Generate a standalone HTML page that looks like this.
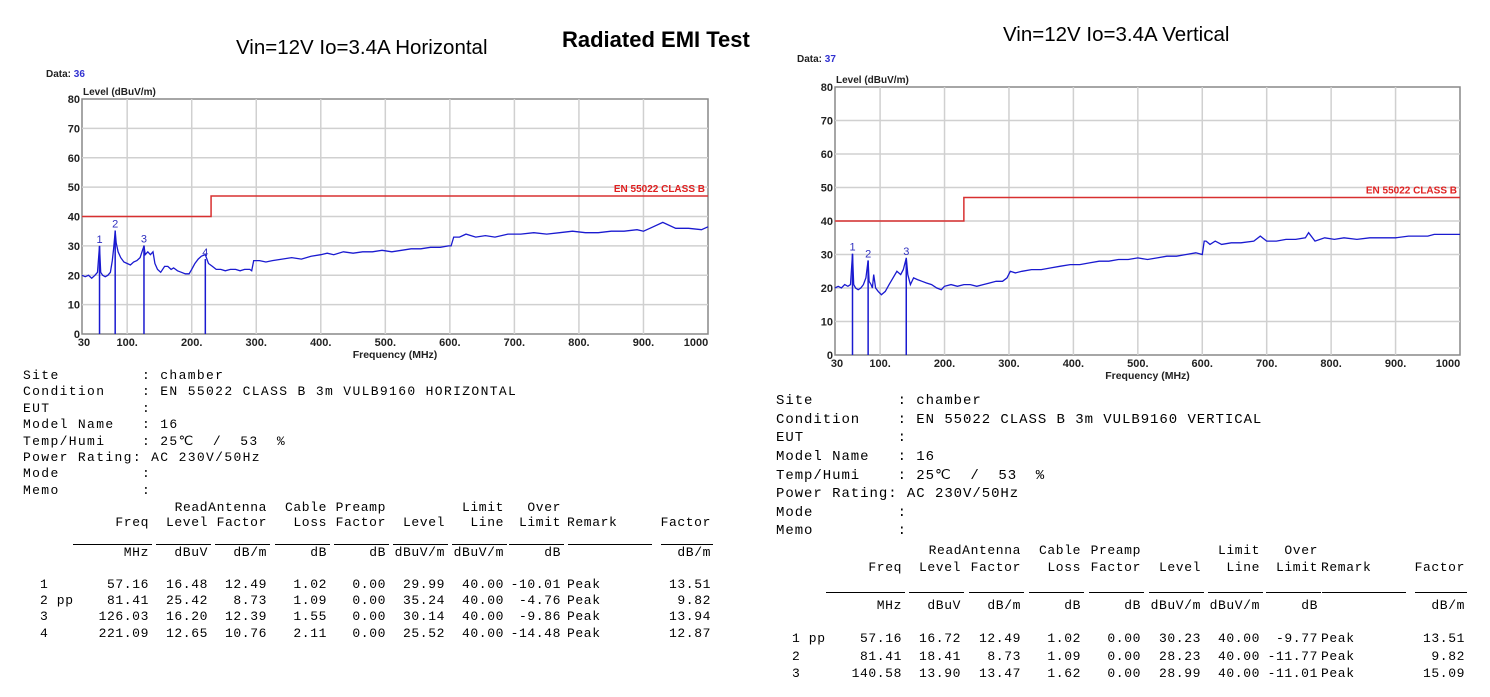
<!DOCTYPE html>
<html><head><meta charset="utf-8">
<style>
body{margin:0;background:#fff;width:1490px;height:697px;overflow:hidden;position:relative;font-family:"Liberation Sans",sans-serif}
.t{position:absolute;white-space:pre;color:#000}
.mono{font-family:"Liberation Mono",monospace;letter-spacing:1.35px;font-size:13px}
.mono2{font-family:"Liberation Mono",monospace;letter-spacing:0.95px;font-size:14px}
.c{position:absolute;font-family:"Liberation Mono",monospace;font-size:13px;letter-spacing:0.6px;white-space:pre;text-align:right;transform:translateX(-100%)}
.l{position:absolute;font-family:"Liberation Mono",monospace;font-size:13px;letter-spacing:0.6px;white-space:pre}
.ul{position:absolute;height:1px;background:#000}
</style></head><body>
<svg id="svg" width="1490" height="697" style="position:absolute;left:0;top:0"></svg>
<div class="t" style="left:236px;top:36px;font-size:20.5px">Vin=12V Io=3.4A Horizontal</div>
<div class="t" style="left:562px;top:27px;font-size:22px;font-weight:bold">Radiated EMI Test</div>
<div class="t" style="left:1003px;top:23px;font-size:20.5px">Vin=12V Io=3.4A Vertical</div>
<div id="txt"></div>
<script>
const hFreq=[30,35,40,45,50,54,57.16,59,62,66,70,74,77,79,81.41,83,86,90,95,100,105,110,115,120,123,126.03,128,132,136,140,143,147,152,158,163,168,172,178,184,190,196,200,205,210,215,221.09,226,232,238,245,252,260,268,275,282,290,293,296,305,315,325,340,355,370,385,400,410,420,435,450,465,480,495,510,525,540,555,570,585,598,602,606,615,625,640,655,670,690,710,730,750,770,790,810,830,850,870,890,900,910,930,950,970,990,1000];
const hLevel=[20,19.5,20,19,20,21,30,21,20,19.5,20,21,25,29,35,31,28,26,24.5,24,23.5,24.5,25,26,28,30,27,28,27,28,24,22,21,23,23,22,22.5,21.5,21,20.5,20.5,22,24,25.5,26.5,27,24,23,22,22,21.5,22,22,21.5,22,22,21.5,25,25,24.5,25,25.5,26,25.5,26.5,27,27.5,27,28,27.5,28,28,28.5,28,28.5,29,29,29.5,29.5,30,30,33,33,34,33,33.5,33,34,34,34.5,34,34.5,35,34.5,34.5,35,35,35.5,35,36,38,36,36,35.5,36.5,36,36];
const hMarkF=[57.16,81.41,126.03,221.09];
const hMarkL=[29.99,35.24,30.14,25.52];
const vFreq=[30,35,40,45,50,54,57.16,59,62,66,70,74,78,81.41,83,86,88,90,93,97,102,108,114,120,126,132,136,140.58,143,147,152,158,165,172,180,188,195,200,210,220,230,240,250,260,270,280,290,297,302,310,320,335,350,365,380,395,410,425,440,455,470,485,500,515,530,545,560,575,590,600,603,606,612,620,630,645,660,680,690,700,715,730,745,760,765,775,790,805,820,840,860,880,900,920,940,950,960,980,1000];
const vLevel=[20,20.5,20,21,20.5,21,30.2,21,20,19.5,20,21,23,28.2,22,21,20,24,20,19,18,19,21,23,25,24,25.5,29,24,21,23,22.5,22,21.5,21,20,19.5,20.5,21,20.5,21,21,20.5,21,21.5,22,22,23,25,24.5,25,25.5,25.5,26,26.5,27,27,27.5,28,28,28.5,28.5,29,28.5,29,29.5,29.5,30,30.5,30,34,34,33,34,33,33.5,33.5,34,35.5,34,34,34.5,34.5,35,36.5,34,35,34.5,35,34.5,35,35,35,35.5,35.5,35.5,36,36,36,35.5,35.5];
const vMarkF=[57.16,81.41,140.58];
const vMarkL=[30.23,28.23,28.99];
const xTicks=[30,100,200,300,400,500,600,700,800,900,1000];
const xTickLabels=["30","100.","200.","300.","400.","500.","600.","700.","800.","900.","1000"];
const yTicks=[0,10,20,30,40,50,60,70,80];
const limF=[30,230,230,1000];
const limL=[40,40,47,47];

const NS="http://www.w3.org/2000/svg";
const svg=document.getElementById('svg');
function mk(tag,attrs,parent){const e=document.createElementNS(NS,tag);for(const k in attrs)e.setAttribute(k,attrs[k]);(parent||svg).appendChild(e);return e;}
function chart(o,freqs,levels,mF,mL,dataNo,pre){
  const g=mk('g',{});
  
  
  const X=f=>o.x0+(f-30)/(970)*(o.x1-o.x0);
  const Y=v=>o.yb-v/80*(o.yb-o.yt);
  mk('rect',{x:o.x0,y:o.yt,width:o.x1-o.x0,height:o.yb-o.yt,fill:'#fff',stroke:'#888','stroke-width':1.5},g);
  xTicks.forEach((t,i)=>{
    if(i>0&&i<xTicks.length-1) mk('line',{x1:X(t),x2:X(t),y1:o.yt,y2:o.yb,stroke:'#d0d0d0','stroke-width':1.5},g);
    const tx=mk('text',{x:X(t)+(i==0?2:i==xTicks.length-1?-12:0),y:o.yb+12,'font-size':11,'font-weight':'bold','text-anchor':'middle',fill:'#222','font-family':'Liberation Sans'},g);
    tx.textContent=xTickLabels[i];
    
    
  });
  yTicks.forEach(t=>{
    if(t>0&&t<80) mk('line',{x1:o.x0,x2:o.x1,y1:Y(t),y2:Y(t),stroke:'#d0d0d0','stroke-width':1.5},g);
    const tx=mk('text',{x:o.x0-2,y:Y(t)+4,'font-size':11,'font-weight':'bold','text-anchor':'end',fill:'#222','font-family':'Liberation Sans'},g);
    tx.textContent=String(t);
    
    
  });
  let t=mk('text',{x:o.x0+1,y:o.yt-4,'font-size':10,'font-weight':'bold',fill:'#222','font-family':'Liberation Sans'},g);
  t.textContent='Level (dBuV/m)';
  
  
  t=mk('text',{x:(o.x0+o.x1)/2,y:o.yb+24,'font-size':10.5,'font-weight':'bold','text-anchor':'middle',fill:'#222','font-family':'Liberation Sans'},g);
  t.textContent='Frequency (MHz)';
  
  
  t=mk('text',{x:o.dx,y:o.dy,'font-size':10,'font-weight':'bold',fill:'#222','font-family':'Liberation Sans'},g);
  t.innerHTML='Data: <tspan fill="#3030d0">'+dataNo+'</tspan>';
  
  
  const lp=mk('polyline',{points:limF.map((f,i)=>X(f)+','+Y(limL[i])).join(' '),fill:'none',stroke:'#d83030','stroke-width':1.5},g);
  
  
  t=mk('text',{x:o.x1-3,y:Y(47)-4,'font-size':10,'font-weight':'bold','text-anchor':'end',fill:'#e02020','font-family':'Liberation Sans'},g);
  t.textContent='EN 55022 CLASS B';
  
  
  const tr=mk('polyline',{points:freqs.map((f,i)=>X(f).toFixed(1)+','+Y(levels[i]).toFixed(1)).join(' '),fill:'none',stroke:'#1a1ad0','stroke-width':1.3},g);
  
  
  mF.forEach((f,i)=>{
    const ln=mk('line',{x1:X(f),x2:X(f),y1:o.yb,y2:Y(mL[i]),stroke:'#1a1ad0','stroke-width':1.5},g);
    
    
    const lb=mk('text',{x:X(f),y:Y(mL[i])-3,'font-size':11,'text-anchor':'middle',fill:'#3030c0','font-family':'Liberation Sans'},g);
    lb.textContent=String(i+1);
    
    
  });
}
chart({x0:82,x1:708,yt:99,yb:334,dx:46,dy:77},hFreq,hLevel,hMarkF,hMarkL,36,'horizontal');
chart({x0:835,x1:1460,yt:87,yb:355,dx:797,dy:62},vFreq,vLevel,vMarkF,vMarkL,37,'vertical');

const txt=document.getElementById('txt');
function info(lines,x,y0,dy,cls,pre){
  lines.forEach((s,i)=>{const d=document.createElement('div');d.className='t '+cls;d.style.left=x+'px';d.style.top=(y0+i*dy)+'px';d.textContent=s;
    
    
    txt.appendChild(d);});
}
const hInfo=["Site         : chamber","Condition    : EN 55022 CLASS B 3m VULB9160 HORIZONTAL","EUT          :","Model Name   : 16","Temp/Humi    : 25\u2103  /  53  %","Power Rating: AC 230V/50Hz","Mode         :","Memo         :"];
const vInfo=["Site         : chamber","Condition    : EN 55022 CLASS B 3m VULB9160 VERTICAL","EUT          :","Model Name   : 16","Temp/Humi    : 25\u2103  /  53  %","Power Rating: AC 230V/50Hz","Mode         :","Memo         :"];
info(hInfo,23,368,16.4,'mono','horizontal');
info(vInfo,776,393,18.6,'mono2','vertical');

const head1=["","","ReadAntenna","Cable","Preamp","","Limit","Over"];
const head2=["Freq","Level","Factor","Loss","Factor","Level","Line","Limit"];
const units=["MHz","dBuV","dB/m","dB","dB","dBuV/m","dBuV/m","dB"];
const hRows=[["1","57.16","16.48","12.49","1.02","0.00","29.99","40.00","-10.01","13.51"],["2 pp","81.41","25.42","8.73","1.09","0.00","35.24","40.00","-4.76","9.82"],["3","126.03","16.20","12.39","1.55","0.00","30.14","40.00","-9.86","13.94"],["4","221.09","12.65","10.76","2.11","0.00","25.52","40.00","-14.48","12.87"]];
const vRows=[["1 pp","57.16","16.72","12.49","1.02","0.00","30.23","40.00","-9.77","13.51"],["2","81.41","18.41","8.73","1.09","0.00","28.23","40.00","-11.77","9.82"],["3","140.58","13.90","13.47","1.62","0.00","28.99","40.00","-11.01","15.09"]];
function cell(s,x,y,right,pre){const d=document.createElement('div');d.className=right?'c':'l';d.style.left=x+'px';d.style.top=y+'px';d.textContent=s;
  
  
  txt.appendChild(d);}
function table(o,rows,pre){
  const ends=o.ends;
  head1.forEach((s,i)=>{ if(s) cell(s,ends[i],o.h1,true,pre);});
  head2.forEach((s,i)=>cell(s,ends[i],o.h2,true,pre));
  cell('Remark',o.rem,o.h2,false,pre);
  cell('Factor',o.fac,o.h2,true,pre);
  units.forEach((s,i)=>cell(s,ends[i],o.u,true,pre));
  cell('dB/m',o.fac,o.u,true,pre);
  ends.forEach((e,i)=>{const d=document.createElement('div');d.className='ul';const w=i==0?e-o.first+3:55;d.style.left=(e+3-w)+'px';d.style.width=w+'px';d.style.top=o.line+'px';
    
    
    txt.appendChild(d);});
  [[o.rem+1,o.fac-o.rem-60],[o.fac-50,52]].forEach(a=>{const d=document.createElement('div');d.className='ul';d.style.left=a[0]+'px';d.style.width=a[1]+'px';d.style.top=o.line+'px';
    
    
    txt.appendChild(d);});
  rows.forEach((r,j)=>{const y=o.r0+j*o.dr;
    cell(r[0],o.id,y,false,pre);
    for(let i=1;i<=8;i++) cell(r[i],ends[i-1],y,true,pre);
    cell('Peak',o.rem,y,false,pre);
    cell(r[9],o.fac,y,true,pre);
  });
}
table({ends:[149,208,267,327,386,445,504,561],first:73,rem:567,fac:711,id:40,h1:500,h2:515,line:544,u:545,r0:577,dr:16.2},hRows,'horizontal');
table({ends:[902,961,1021,1081,1141,1201,1260,1318],first:826,rem:1321,fac:1465,id:792,h1:543,h2:560,line:592,u:598,r0:631,dr:17.5},vRows,'vertical');
</script>
</body></html>
